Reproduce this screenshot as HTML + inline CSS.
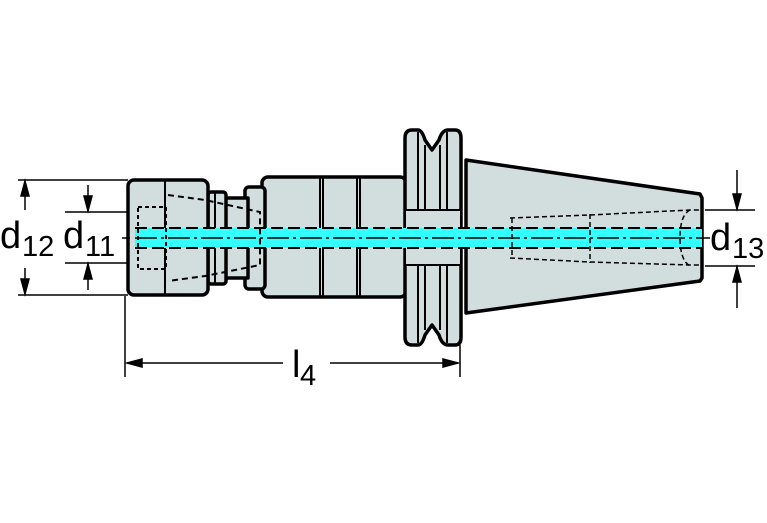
<!DOCTYPE html>
<html><head><meta charset="utf-8"><style>body{margin:0;background:#fff}svg{display:block}</style></head><body>
<svg width="767" height="523" viewBox="0 0 767 523" xmlns="http://www.w3.org/2000/svg" font-family="Liberation Sans, sans-serif">
<g fill="#d2dedd" stroke="#000" stroke-width="3.5" stroke-linejoin="round">
<path d="M466 160 L700 194 L702 198 L702 278 L700 281 L466 313 Z"/>
<rect x="262" y="177" width="144" height="120" rx="6"/>
<rect x="245" y="187" width="20" height="102" rx="4"/>
<rect x="224" y="198" width="24" height="80"/>
<rect x="208" y="192" width="18" height="92" rx="3"/>
<path d="M405 138 Q405 130 412 130 L418 130 Q422 130 425 140 L432 150 L439 140 Q442 130 448 130 L455 130 Q461 130 461 138 L461 337 Q461 345 455 345 L448 345 Q442 345 439 335 L432 325 L425 335 Q422 345 418 345 L412 345 Q405 345 405 337 Z"/>
<rect x="128" y="180" width="80" height="115" rx="6"/>
</g>
<g stroke="#000" stroke-width="2" fill="none">
<line x1="165" y1="181" x2="165" y2="294"/>
<line x1="320" y1="178" x2="320" y2="296"/><line x1="323" y1="178" x2="323" y2="296"/>
<line x1="357" y1="178" x2="357" y2="296"/><line x1="360" y1="178" x2="360" y2="296"/>
<line x1="425" y1="145" x2="425" y2="330"/><line x1="440" y1="145" x2="440" y2="330"/>
<line x1="418" y1="132" x2="418" y2="343"/><line x1="447" y1="132" x2="447" y2="343"/>
<line x1="466" y1="160" x2="466" y2="313"/>
<rect x="405" y="210" width="56" height="55" fill="#d2dedd"/>
<line x1="215" y1="193" x2="215" y2="283"/>
</g>
<rect x="135" y="228" width="567" height="20" fill="#3ff"/>
<g stroke="#000" stroke-width="2" fill="none" stroke-dasharray="12 5">
<line x1="135" y1="228" x2="702" y2="228"/><line x1="135" y1="248" x2="702" y2="248"/>
<path d="M168 195 L205 200 L260 212 L260 265 L205 276 L168 281" stroke-dasharray="6 4"/>
<rect x="138" y="207" width="28" height="62" stroke-dasharray="4 3"/>
</g>
<g stroke="#000" stroke-width="1.5" fill="none" stroke-dasharray="5 3">
<path d="M510 218 L590 215 L690 210 L702 210 M510 258 L590 262 L690 265 L702 265"/>
<line x1="512" y1="218" x2="512" y2="258"/><line x1="590" y1="214" x2="590" y2="263"/>
<path d="M690 210 Q680 215 680 238 Q680 260 690 266"/>
</g>
<line x1="135" y1="238" x2="702" y2="238" stroke="#000" stroke-width="1.5" stroke-dasharray="22 4 3 4"/>
<g stroke="#000" stroke-width="1.5" fill="#000">
<line x1="18" y1="180" x2="128" y2="180"/><line x1="18" y1="295" x2="128" y2="295"/>
<line x1="25" y1="182" x2="25" y2="210"/><line x1="25" y1="268" x2="25" y2="293"/>
<path d="M25 181 L21 196 L29 196 Z M25 294 L21 279 L29 279 Z"/>
<line x1="65" y1="212" x2="128" y2="212"/><line x1="65" y1="263" x2="128" y2="263"/>
<line x1="88" y1="185" x2="88" y2="211"/><line x1="88" y1="264" x2="88" y2="290"/>
<path d="M88 211 L84 196 L92 196 Z M88 264 L84 279 L92 279 Z"/>
<line x1="122" y1="238" x2="130" y2="238"/>
<line x1="705" y1="210" x2="755" y2="210"/><line x1="705" y1="266" x2="755" y2="266"/>
<line x1="737" y1="170" x2="737" y2="209"/><line x1="737" y1="267" x2="737" y2="308"/>
<path d="M737 209 L733 194 L741 194 Z M737 267 L733 282 L741 282 Z"/>
<line x1="702" y1="238" x2="710" y2="238"/>
<line x1="125" y1="296" x2="125" y2="377"/><line x1="460" y1="345" x2="460" y2="377"/>
<line x1="127" y1="363" x2="283" y2="363"/><line x1="330" y1="363" x2="458" y2="363"/>
<path d="M127 363 L142 359 L142 367 Z M458 363 L443 359 L443 367 Z"/>
</g>
<g fill="#000" font-size="38">
<text x="0" y="248">d</text><text x="22" y="256" font-size="29">12</text>
<text x="63" y="248">d</text><text x="85" y="256" font-size="29">11</text>
<text x="710" y="250">d</text><text x="732" y="258" font-size="29">13</text>
<text x="292" y="377">l</text><text x="300" y="385" font-size="29">4</text>
</g>
</svg>
</body></html>
